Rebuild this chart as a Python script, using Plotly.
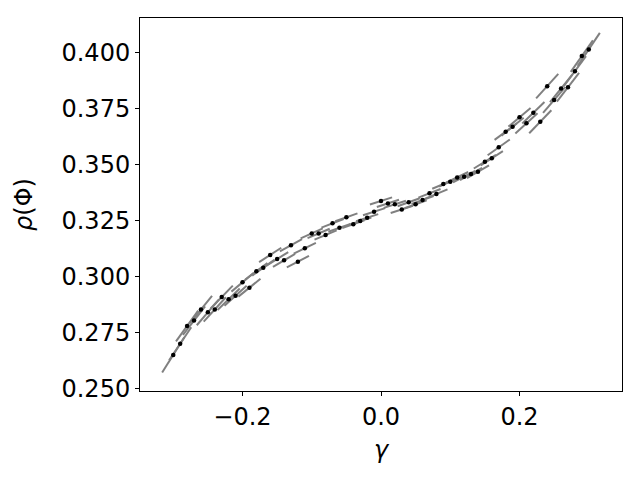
import plotly.graph_objects as go

# ============================================================================ #
# ============================ data ========================================== #
# ============================================================================ #
# gamma values, one point per 0.01 step
gamma = [-0.30, -0.29, -0.28, -0.27, -0.26, -0.25, -0.24, -0.23, -0.22, -0.21,
         -0.20, -0.19, -0.18, -0.17, -0.16, -0.15, -0.14, -0.13, -0.12, -0.11,
         -0.10, -0.09, -0.08, -0.07, -0.06, -0.05, -0.04, -0.03, -0.02, -0.01,
         0.00, 0.01, 0.02, 0.03, 0.04, 0.05, 0.06, 0.07, 0.08, 0.09,
         0.10, 0.11, 0.12, 0.13, 0.14, 0.15, 0.16, 0.17, 0.18, 0.19,
         0.20, 0.21, 0.22, 0.23, 0.24, 0.25, 0.26, 0.27, 0.28, 0.29, 0.30]

# rho(Phi)
rho = [0.2652, 0.2702, 0.2781, 0.2805, 0.2855, 0.2842, 0.2855, 0.2910, 0.2900, 0.2916,
       0.2976, 0.2952, 0.3025, 0.3041, 0.3098, 0.3080, 0.3074, 0.3141, 0.3068, 0.3128,
       0.3194, 0.3194, 0.3187, 0.3239, 0.3219, 0.3266, 0.3235, 0.3249, 0.3264, 0.3291,
       0.3339, 0.3328, 0.3324, 0.3301, 0.3333, 0.3324, 0.3343, 0.3373, 0.3370, 0.3414,
       0.3425, 0.3444, 0.3447, 0.3459, 0.3469, 0.3514, 0.3529, 0.3578, 0.3648, 0.3670,
       0.3712, 0.3685, 0.3732, 0.3692, 0.3851, 0.3789, 0.3841, 0.3846, 0.3918, 0.3985, 0.4015]

# local slope of each gray segment (estimated)
slope = [0.49, 0.46, 0.43, 0.40, 0.38, 0.36, 0.34, 0.32, 0.30, 0.28,
         0.26, 0.25, 0.23, 0.22, 0.20, 0.19, 0.18, 0.17, 0.16, 0.15,
         0.14, 0.13, 0.13, 0.12, 0.11, 0.11, 0.11, 0.10, 0.10, 0.10,
         0.10, 0.10, 0.10, 0.10, 0.11, 0.11, 0.11, 0.12, 0.13, 0.13,
         0.14, 0.15, 0.16, 0.17, 0.18, 0.19, 0.20, 0.22, 0.23, 0.25,
         0.26, 0.28, 0.30, 0.32, 0.34, 0.36, 0.38, 0.40, 0.42, 0.44, 0.46]

x_ticks = [-0.2, 0.0, 0.2]
y_ticks = [0.250, 0.275, 0.300, 0.325, 0.350, 0.375, 0.400]

half_dx = 0.016

# build the short tangent segments, separated by None
seg_x, seg_y = [], []
for g, r, s in zip(gamma, rho, slope):
    seg_x += [g - half_dx, g + half_dx, None]
    seg_y += [r - s * half_dx, r + s * half_dx, None]

fig = go.Figure()

fig.add_trace(go.Scatter(x=seg_x, y=seg_y, mode="lines",
                         line=dict(color="#808080", width=2),
                         hoverinfo="skip", showlegend=False))

fig.add_trace(go.Scatter(x=gamma, y=rho, mode="markers",
                         marker=dict(color="black", size=4.5),
                         showlegend=False))

axis_font = dict(family="DejaVu Sans", size=24, color="black")

# page body adds 8px offset -> margins shifted to compensate
fig.update_layout(
    width=640, height=480,
    margin=dict(l=132, r=26, t=10, b=97),
    plot_bgcolor="white", paper_bgcolor="white",
    font=axis_font,
    xaxis=dict(range=[-0.348, 0.348], tickvals=x_ticks, tickformat=".1f",
               showgrid=False, zeroline=False,
               showline=True, linecolor="black", linewidth=1, mirror=True,
               ticks="outside", ticklen=4, tickwidth=1, tickcolor="black",
               tickfont=axis_font,
               title=dict(text="<i>γ</i>", font=axis_font, standoff=11)),
    yaxis=dict(range=[0.2491, 0.4155], tickvals=y_ticks, tickformat=".3f",
               showgrid=False, zeroline=False,
               showline=True, linecolor="black", linewidth=1, mirror=True,
               ticks="outside", ticklen=4, tickwidth=1, tickcolor="black",
               tickfont=axis_font,
               title=dict(text="<i>ρ</i>(Φ)", font=axis_font, standoff=22)),
)

fig.write_html("out.html")
